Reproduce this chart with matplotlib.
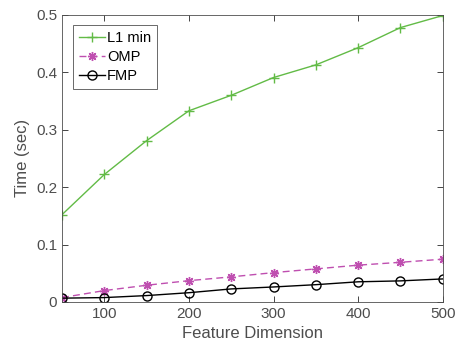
import matplotlib
matplotlib.use("Agg")
import matplotlib.pyplot as plt

dims = [50, 100, 150, 200, 250, 300, 350, 400, 450, 500]
l1_min = [0.152, 0.222, 0.281, 0.333, 0.360, 0.391, 0.413, 0.443, 0.478, 0.499]
omp = [0.0075, 0.0197, 0.029, 0.037, 0.0436, 0.051, 0.0575, 0.064, 0.069, 0.0744]
fmp = [0.0065, 0.0075, 0.011, 0.016, 0.0226, 0.026, 0.030, 0.035, 0.0366, 0.040]
xticks = [100, 200, 300, 400, 500]
yticks = [0, 0.1, 0.2, 0.3, 0.4, 0.5]

plt.rcParams['font.family'] = ['Liberation Sans', 'DejaVu Sans']
axc = '#262626'
fig = plt.figure(figsize=(4.56, 3.56), dpi=100)
ax = fig.add_axes([0.136, 0.152, 0.835, 0.806])

ax.plot(dims, l1_min, color='#62bb46', marker='+', markersize=7.5, mew=1.0, lw=1.0, label='L1 min')
ax.plot(dims, omp, color='#bf4fb0', marker=(8, 2, 0), markersize=6.5, mew=1.0, lw=1.0,
        ls=(0, (5, 3)), label='OMP')
ax.plot(dims, fmp, color='black', marker='o', markersize=6.5, mfc='none', mew=1.0, lw=1.0, label='FMP')

ax.set_xlim(50, 500)
ax.set_ylim(0, 0.5)
ax.set_xticks(xticks)
ax.set_yticks(yticks)
ax.set_yticklabels(['0', '0.1', '0.2', '0.3', '0.4', '0.5'])
ax.tick_params(direction='in', top=True, right=True, length=4, width=0.6,
               colors=axc, labelsize=11, labelcolor='#4d4d4d')
for s in ax.spines.values():
    s.set_color('#4d4d4d')
    s.set_linewidth(0.6)
ax.set_xlabel('Feature Dimension', fontsize=12, color='#4d4d4d')
ax.set_ylabel('Time (sec)', fontsize=12, color='#4d4d4d')
leg = ax.legend(loc='upper left', bbox_to_anchor=(0.028, 0.965), fontsize=10.5,
                frameon=True, fancybox=False, edgecolor='#262626', handlelength=1.8,
                handletextpad=0.15, borderpad=0.4, labelspacing=0.35, borderaxespad=0)
leg.get_frame().set_linewidth(0.6)
fig.savefig('out.png', dpi=100)
